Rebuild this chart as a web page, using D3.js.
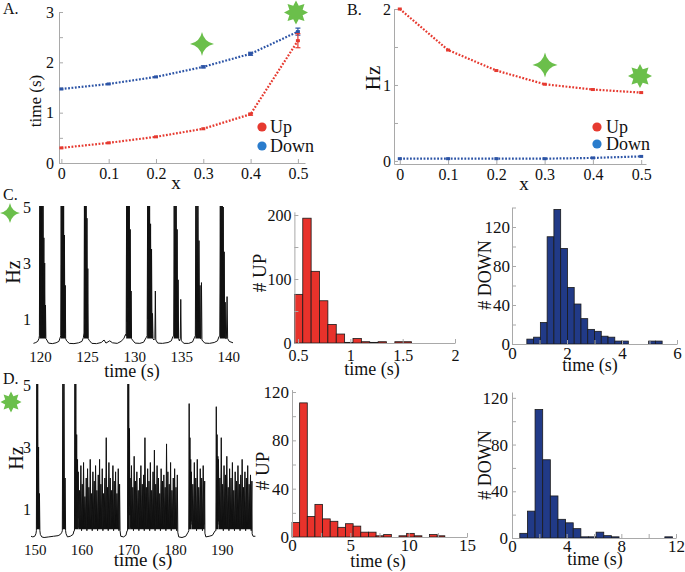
<!DOCTYPE html>
<html><head><meta charset="utf-8">
<script src="https://cdn.jsdelivr.net/npm/d3@7"></script>
<style>
body{margin:0;background:#fff;}
svg{font-family:"Liberation Serif","Times New Roman",serif;}
</style></head><body>
<svg id="c" width="685" height="572"></svg>
<script>
// ---------- DATA ----------
const xVals = [0, 0.1, 0.2, 0.3, 0.4, 0.5];
const xTickLabels = [0, 0.1, 0.2, 0.3, 0.4, 0.5];
// Panel A: durations (s)
const durUp = [0.30, 0.40, 0.52, 0.68, 0.97, 2.43];
const durUpErr = [0.01, 0.01, 0.01, 0.01, 0.02, 0.14];
const durDown = [1.47, 1.57, 1.71, 1.91, 2.17, 2.61];
const durDownErr = [0.01, 0.01, 0.01, 0.02, 0.03, 0.07];
// Panel B: rates (Hz)
const rateUp = [2.0, 1.46, 1.19, 1.01, 0.94, 0.90];
const rateDown = [0.03, 0.03, 0.03, 0.03, 0.04, 0.06];
const legendNames = ["Up", "Down"];

// Panel C trace (x = 0.3)
const cBurstStart = [119.93, 122.2, 124.67, 129.15, 131.38, 134.2, 136.5, 139.1];
const cBurstEnd = [120.62, 122.72, 125.12, 129.72, 132.0, 134.72, 137.05, 139.72];
const cBurstVals = [
  [0.4, 5.5, 0.8, 5.5, 1.2, 5.5, 1.0, 5.5, 0.9, 5.2, 0.8, 3.9, 0.6, 3.0, 0.4, 1.5, 0.3],
  [0.4, 5.5, 0.9, 5.5, 1.3, 5.5, 1.0, 5.3, 0.7, 4.0, 0.5, 2.2, 0.3],
  [0.5, 5.5, 1.0, 5.5, 1.2, 5.5, 0.9, 4.6, 0.6, 2.8, 0.3],
  [0.4, 5.5, 0.9, 5.5, 1.4, 5.5, 1.1, 5.5, 0.8, 4.2, 0.5, 2.0, 0.3],
  [0.4, 5.5, 1.0, 5.5, 1.3, 5.5, 0.9, 4.4, 0.7, 3.5, 0.5, 1.2, 0.3],
  [0.4, 5.5, 0.9, 5.5, 1.2, 5.5, 1.0, 4.2, 0.6, 2.4, 0.3],
  [0.4, 5.5, 1.0, 5.5, 1.3, 5.5, 0.9, 3.8, 0.7, 2.2, 0.3],
  [0.4, 5.5, 0.9, 5.5, 1.2, 5.5, 1.0, 5.0, 0.7, 3.4, 0.5, 1.6, 0.3]
];
const cDownPts = [
  [119.3,0.13],[119.55,0.16],[119.75,0.2],[119.88,0.3],
  [120.72,0.25],[120.9,0.14],[121.3,0.12],[121.7,0.15],[122.0,0.2],[122.12,0.32],
  [122.82,0.22],[123.1,0.13],[123.6,0.12],[124.1,0.15],[124.45,0.2],[124.6,0.33],
  [125.22,0.24],[125.5,0.13],[126.0,0.12],[126.5,0.16],[126.8,0.25],[127.0,0.14],[127.4,0.22],[127.7,0.15],[128.2,0.13],[128.6,0.2],[128.9,0.3],[129.08,0.45],
  [129.82,0.25],[130.1,0.14],[130.6,0.13],[131.0,0.17],[131.3,0.35],
  [132.08,0.25],[132.2,0.3],[132.25,2.0],[132.3,0.25],[132.5,0.14],[133.0,0.13],[133.6,0.16],[133.95,0.22],[134.12,0.38],
  [134.8,0.22],[134.9,0.3],[134.95,1.7],[135.0,0.22],[135.3,0.13],[135.8,0.13],[136.2,0.18],[136.42,0.35],
  [137.1,0.3],[137.15,2.3],[137.2,0.25],[137.5,0.14],[138.0,0.13],[138.5,0.16],[138.85,0.22],[139.02,0.38],
  [139.8,0.3],[139.87,1.8],[139.93,0.3],[140.1,0.2],[140.5,0.15]
];

// Panel D trace (x = 0.5)
const dBurstStart = [150.35, 155.9, 158.5, 169.85, 182.95, 188.75];
const dBurstEnd = [151.1, 156.6, 159.25, 170.35, 183.45, 189.25];
const dBurstVals = [
  [0.3, 5.5, 0.5, 5.5, 0.6, 3.0, 0.4, 1.5, 0.3],
  [0.3, 5.5, 0.7, 5.5, 0.5, 2.0, 0.3],
  [0.3, 5.5, 0.8, 5.5, 1.0, 3.4, 0.9, 2.6, 0.7],
  [0.3, 5.5, 0.9, 5.5, 1.1, 3.6, 0.8],
  [0.3, 4.4, 0.8, 3.3, 0.9, 2.6, 0.6],
  [0.3, 4.3, 0.9, 3.4, 0.8, 2.7, 0.6]
];
const dPlatStart = [159.3, 170.4, 183.5, 189.3];
const dPlatEnd = [168.15, 180.5, 186.35, 196.45];
const dPlatVals = [
  [2.2,0.4, 1.6,0.5, 2.4,0.3, 1.8,0.6, 2.5,0.4, 1.4,0.5, 2.0,0.3, 2.3,0.5, 1.7,0.4, 2.6,0.6, 1.5,0.3, 2.2,0.5, 1.9,0.4, 2.4,0.6, 1.6,0.3, 2.1,0.5, 2.6,0.4, 1.8,0.5, 2.3,0.3, 1.5,0.6, 2.0,0.4, 3.3,0.5, 1.7,0.3, 2.5,0.5, 2.0,0.4, 1.6,0.6, 2.4,0.3, 1.9,0.5, 2.2,0.4, 1.5,0.5, 2.3,0.3, 1.8],
  [2.0,0.4, 2.4,0.5, 1.7,0.3, 2.7,0.6, 1.9,0.4, 2.2,0.5, 1.6,0.3, 2.0,0.5, 2.4,0.4, 1.8,0.6, 2.1,0.3, 3.3,0.5, 1.7,0.4, 2.3,0.6, 1.9,0.3, 2.5,0.5, 1.6,0.4, 2.2,0.5, 2.9,0.3, 1.8,0.6, 2.4,0.4, 2.0,0.5, 1.5,0.3, 2.3,0.5, 1.9,0.4, 2.1,0.6, 1.7,0.3, 3.1,0.5, 2.2,0.4, 1.8,0.5, 2.5,0.3, 1.6,0.6, 2.0,0.4, 2.3,0.5, 1.7,0.3, 2.1],
  [2.2,0.5, 1.8,0.4, 2.5,0.6, 2.0,0.3, 2.6,0.5, 1.7,0.4, 2.3,0.5, 2.0,0.3, 2.4,0.5, 1.9],
  [2.6,0.5, 2.0,0.4, 3.3,0.6, 1.8,0.3, 2.4,0.5, 2.1,0.4, 2.7,0.5, 1.7,0.3, 2.3,0.6, 2.0,0.4, 2.5,0.5, 1.6,0.3, 2.2,0.5, 1.9,0.4, 2.4,0.6, 1.8,0.3, 2.1,0.5, 2.6,0.4, 1.7,0.5, 2.2,0.3, 2.0,0.5, 2.4,0.4, 1.8,0.6, 2.1,0.3, 1.9]
];
const dDownPts = [
  [149.2,0.12],[149.6,0.1],[150.0,0.12],[150.25,0.2],
  [151.2,0.18],[151.5,0.1],[152.0,0.08],[153.0,0.1],[154.0,0.12],[155.0,0.14],[155.5,0.18],[155.8,0.25],
  [156.7,0.2],[157.0,0.1],[157.6,0.12],[158.2,0.18],[158.4,0.3],
  [168.25,0.3],[168.4,0.12],[169.0,0.1],[169.5,0.15],[169.75,0.3],
  [180.6,0.25],[180.8,0.1],[181.5,0.08],[182.3,0.12],[182.8,0.25],
  [186.4,0.22],[186.6,0.1],[187.3,0.12],[188.0,0.15],[188.6,0.3],
  [196.5,0.2],[196.7,0.12],[197.2,0.12]
];

// Histograms
const cUpBinStart = 0.465, cUpBinWidth = 0.08;
const cUpCounts = [76, 195, 112, 66, 29, 14, 1, 7, 2, 1, 2, 0, 2, 2];
const cDownBinStart = 0.54, cDownBinWidth = 0.246;
const cDownCounts = [5, 7, 22, 110, 138, 98, 58, 41, 26, 15, 13, 8, 7, 3, 3, 0, 0, 0, 3, 3];
const dUpBinStart = 0, dUpBinWidth = 0.655;
const dUpCounts = [12, 111, 17, 27, 15, 13, 8, 11, 9, 4, 4, 1, 2, 0, 1, 3, 1, 0, 2, 1];
const dDownBinStart = 0.57, dDownBinWidth = 0.5586;
const dDownCounts = [4, 23, 110, 67, 36, 16, 13, 8, 1, 1, 5, 2, 1, 0, 0, 0, 0, 0, 0, 1];

// ---------- DRAWING ----------
const svg = d3.select("#c");
const RED = "#e63a30", BLUE = "#2c54a6", LBLUE = "#2a7ccc", GREEN = "#6bbf4b", AX = "#a9a9a9";

function styleAxis(g, fs, showLine) {
  g.attr("font-family", null).attr("font-size", fs);
  g.select(".domain").attr("stroke", showLine ? AX : "none");
  g.selectAll(".tick line").attr("stroke", showLine ? AX : "none");
  g.selectAll("text").attr("fill", "#111");
}
function yAxis(scale, x, ticks, labels, fs, pad, showLine = true) {
  const ax = d3.axisLeft(scale).tickValues(ticks)
    .tickFormat(d => labels.includes(d) ? String(d) : "")
    .tickSizeInner(-4).tickSizeOuter(0).tickPadding(pad);
  const g = svg.append("g").attr("transform", `translate(${x},0)`).call(ax);
  styleAxis(g, fs, showLine);
  return g;
}
function xAxis(scale, y, ticks, labels, fs, pad, showLine = true) {
  const ax = d3.axisBottom(scale).tickValues(ticks)
    .tickFormat(d => labels.includes(d) ? String(d) : "")
    .tickSizeInner(-4).tickSizeOuter(0).tickPadding(pad);
  const g = svg.append("g").attr("transform", `translate(0,${y})`).call(ax);
  styleAxis(g, fs, showLine);
  return g;
}
function text(x, y, s, fs, opts = {}) {
  const t = svg.append("text").attr("x", x).attr("y", y).attr("font-size", fs)
    .attr("fill", "#111").attr("text-anchor", opts.anchor || "start").text(s);
  if (opts.rotate) t.attr("transform", `rotate(-90,${x},${y})`);
  return t;
}
function star4(cx, cy, R) {
  const k = 0.17 * R;
  const p = d3.path();
  p.moveTo(cx, cy - R);
  p.quadraticCurveTo(cx + k, cy - k, cx + R, cy);
  p.quadraticCurveTo(cx + k, cy + k, cx, cy + R);
  p.quadraticCurveTo(cx - k, cy + k, cx - R, cy);
  p.quadraticCurveTo(cx - k, cy - k, cx, cy - R);
  p.closePath();
  svg.append("path").attr("d", p.toString()).attr("fill", GREEN);
}
function star8(cx, cy, R) {
  const pts = [];
  for (let i = 0; i < 16; i++) {
    const a = -Math.PI / 2 + i * Math.PI / 8;
    const r = i % 2 === 0 ? R : R * 0.6;
    pts.push([cx + r * Math.cos(a), cy + r * Math.sin(a)]);
  }
  svg.append("path").attr("d", d3.line()(pts) + "Z").attr("fill", GREEN);
}

function seriesPanel(xs, ys, vals, errs, color) {
  svg.append("path").datum(vals)
    .attr("d", d3.line().x((d, i) => xs(xVals[i])).y(d => ys(d)))
    .attr("fill", "none").attr("stroke", color).attr("stroke-width", 2.2)
    .attr("stroke-dasharray", "1.8,1.6");
  vals.forEach((v, i) => {
    const cx = xs(xVals[i]);
    if (errs && errs[i] > 0.015) {
      const y1 = ys(v - errs[i]), y2 = ys(v + errs[i]);
      svg.append("line").attr("x1", cx).attr("x2", cx).attr("y1", y1).attr("y2", y2).attr("stroke", color).attr("stroke-width", 1.2);
      [y1, y2].forEach(yy => svg.append("line").attr("x1", cx - 2.5).attr("x2", cx + 2.5).attr("y1", yy).attr("y2", yy).attr("stroke", color).attr("stroke-width", 1.2));
    }
    svg.append("rect").attr("x", cx - 2).attr("y", ys(v) - 1.5).attr("width", 4).attr("height", 3).attr("fill", color);
  });
}
function legend(x, y1, y2, tx) {
  svg.append("circle").attr("cx", x).attr("cy", y1).attr("r", 4.6).attr("fill", RED);
  svg.append("circle").attr("cx", x).attr("cy", y2).attr("r", 4.6).attr("fill", LBLUE);
  text(tx, y1 + 6, legendNames[0], 18);
  text(tx, y2 + 6, legendNames[1], 18);
}

// ----- Panel A -----
const xA = d3.scaleLinear([-0.005, 0.515], [59, 305]);
const yA = d3.scaleLinear([0, 3], [163, 12]);
yAxis(yA, 59, [0, 0.5, 1, 1.5, 2, 2.5, 3], [0, 1, 2, 3], 16, 5);
xAxis(xA, 163, xVals, xTickLabels, 16, 5);
seriesPanel(xA, yA, durDown, durDownErr, BLUE);
seriesPanel(xA, yA, durUp, durUpErr, RED);
legend(262, 127, 146, 270);
text(41, 101, "time (s)", 17, { anchor: "middle", rotate: true });
text(176, 189, "x", 19, { anchor: "middle" });
text(3, 14, "A.", 16);
star4(202, 44, 12);
star8(296, 12.5, 12);

// ----- Panel B -----
const xB = d3.scaleLinear([-0.012, 0.51], [394, 646]);
const yB = d3.scaleLinear([-0.04, 2], [164, 9]);
yAxis(yB, 394, [0, 0.5, 1, 1.5, 2], [0, 1, 2], 16, 3);
xAxis(xB, 164, xVals, xTickLabels, 16, 5);
seriesPanel(xB, yB, rateDown, null, BLUE);
seriesPanel(xB, yB, rateUp, null, RED);
legend(597, 127, 144, 606);
text(380, 78, "Hz", 21, { anchor: "middle", rotate: true });
text(524, 190, "x", 19, { anchor: "middle" });
text(347, 15, "B.", 16);
star4(545, 65, 12.5);
star8(640, 76, 12);

// ----- trace helpers -----
function segments(starts, ends, valsList) {
  return valsList.map((vals, i) => {
    const n = vals.length;
    return vals.map((v, k) => [starts[i] + k * (ends[i] - starts[i]) / (n - 1), v]);
  });
}
function drawTrace(downPts, segs, xs, ys, clipId, floor) {
  svg.append("clipPath").attr("id", clipId).append("rect")
    .attr("x", xs.range()[0] - 2).attr("y", ys(5) - 1)
    .attr("width", xs.range()[1] - xs.range()[0] + 4).attr("height", ys(0) - ys(5) + 4);
  const g = svg.append("g").attr("clip-path", `url(#${clipId})`);
  segs.forEach(s => {
    g.append("path").datum(s)
      .attr("d", d3.area().x(d => xs(d[0])).y0(ys(floor)).y1(d => ys(Math.max(d[1], floor))))
      .attr("fill", "#111");
  });
  const pts = downPts.concat(...segs).sort((a, b) => a[0] - b[0]);
  g.append("path").datum(pts)
    .attr("d", d3.line().x(d => xs(d[0])).y(d => ys(d[1])))
    .attr("fill", "none").attr("stroke", "#111").attr("stroke-width", 1);
}

// ----- Panel C trace -----
const xC = d3.scaleLinear([119.25, 140.5], [33, 233]);
const yC = d3.scaleLinear([0, 5], [347, 207]);
drawTrace(cDownPts, segments(cBurstStart, cBurstEnd, cBurstVals), xC, yC, "clipC", 0.3);
yAxis(yC, 33, [1, 3, 5], [1, 3, 5], 16, 2, false);
xAxis(xC, 347, [120, 125, 130, 135, 140], [120, 125, 130, 135, 140], 15, 4, false);
text(20, 272, "Hz", 20, { anchor: "middle", rotate: true });
text(132, 377, "time (s)", 18, { anchor: "middle" });
text(3, 200, "C.", 16);
star4(10, 213, 10);

// ----- Panel D trace -----
const xD = d3.scaleLinear([149.2, 197.2], [31, 255.4]);
const yD = d3.scaleLinear([0, 5], [540, 385]);
drawTrace(dDownPts,
  segments(dBurstStart, dBurstEnd, dBurstVals).concat(segments(dPlatStart, dPlatEnd, dPlatVals)),
  xD, yD, "clipD", 0.35);
yAxis(yD, 33, [1, 3, 5], [1, 3, 5], 16, 2, false);
xAxis(xD, 540, [150, 160, 170, 180, 190], [150, 160, 170, 180, 190], 15, 4, false);
text(23, 458, "Hz", 20, { anchor: "middle", rotate: true });
text(143, 566, "time (s)", 19, { anchor: "middle" });
text(3, 384, "D.", 16);
star8(11, 402, 10.5);

// ----- Histograms -----
function hist(xs, ys, start, width, counts, color) {
  counts.forEach((c, i) => {
    if (c <= 0) return;
    const x0 = xs(start + i * width), x1 = xs(start + (i + 1) * width);
    svg.append("rect").attr("x", x0).attr("y", ys(c)).attr("width", x1 - x0)
      .attr("height", ys(0) - ys(c)).attr("fill", color).attr("stroke", "#1a1a1a").attr("stroke-width", 0.8);
  });
}
const HRED = "#e8322b", HBLUE = "#213a87";

// C UP
const xCU = d3.scaleLinear([0.465, 2.0], [294.4, 455]);
const yCU = d3.scaleLinear([0, 205], [343, 211.8]);
hist(xCU, yCU, cUpBinStart, cUpBinWidth, cUpCounts, HRED);
yAxis(yCU, 294.4, [0, 50, 100, 150, 200], [0, 100, 200], 16, 3);
xAxis(xCU, 343, [0.5, 1, 1.5, 2], [0.5, 1, 1.5, 2], 16, 7);
text(266, 273, "# UP", 19, { anchor: "middle", rotate: true });
text(372, 375, "time (s)", 18, { anchor: "middle" });

// C DOWN
const xCD = d3.scaleLinear([0, 6], [512, 677]);
const yCD = d3.scaleLinear([0, 140], [344, 207.5]);
hist(xCD, yCD, cDownBinStart, cDownBinWidth, cDownCounts, HBLUE);
yAxis(yCD, 512, [0, 20, 40, 60, 80, 100, 120, 140], [0, 40, 80, 120], 17, 2);
xAxis(xCD, 344, [0, 1, 2, 3, 4, 5, 6], [0, 2, 4, 6], 17, 3);
text(491, 275, "# DOWN", 18, { anchor: "middle", rotate: true });
text(590, 371, "time (s)", 18, { anchor: "middle" });

// D UP
const xDU = d3.scaleLinear([0, 15], [292, 467]);
const yDU = d3.scaleLinear([0, 122], [537, 389.6]);
hist(xDU, yDU, dUpBinStart, dUpBinWidth, dUpCounts, HRED);
yAxis(yDU, 292, [0, 20, 40, 60, 80, 100, 120], [0, 40, 80, 120], 17, 3);
xAxis(xDU, 537, [0, 2.5, 5, 7.5, 10, 12.5, 15], [0, 5, 10, 15], 17, 2);
text(269, 471, "# UP", 19, { anchor: "middle", rotate: true });
text(378, 567, "time (s)", 18, { anchor: "middle" });

// D DOWN
const xDD = d3.scaleLinear([0, 12], [512, 676]);
const yDD = d3.scaleLinear([0, 125], [538, 392]);
hist(xDD, yDD, dDownBinStart, dDownBinWidth, dDownCounts, HBLUE);
yAxis(yDD, 512, [0, 20, 40, 60, 80, 100, 120], [0, 40, 80, 120], 17, 4);
xAxis(xDD, 538, [0, 2, 4, 6, 8, 10, 12], [0, 4, 8, 12], 17, 2);
text(491, 465, "# DOWN", 18, { anchor: "middle", rotate: true });
text(595, 565, "time (s)", 18, { anchor: "middle" });
</script>
</body></html>
